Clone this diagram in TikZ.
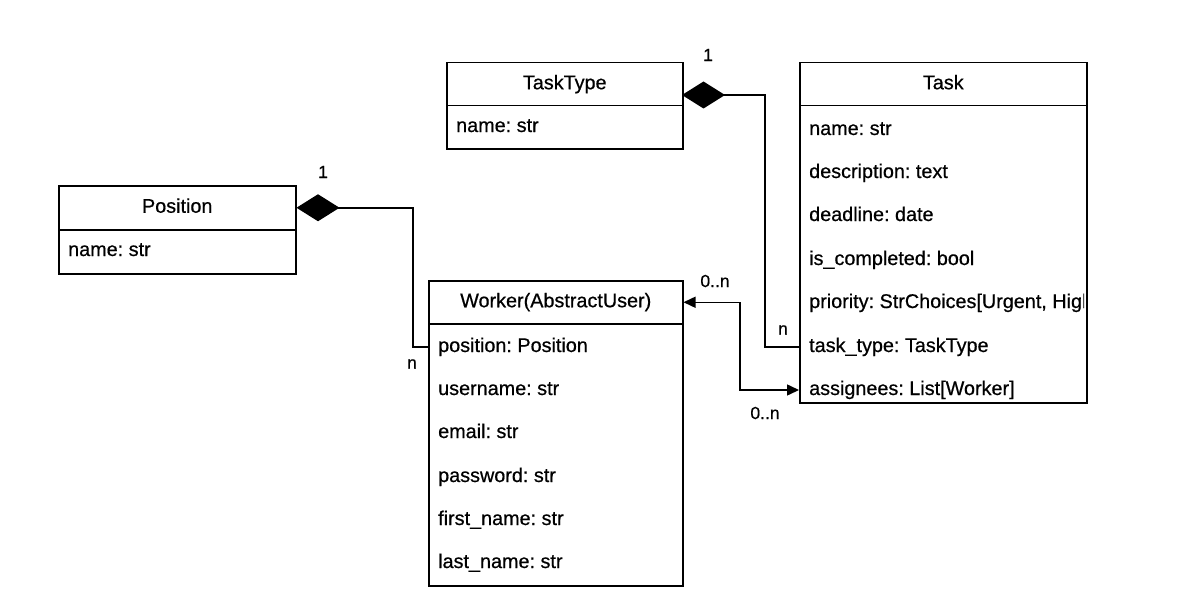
\documentclass[tikz,border=0pt]{standalone}
\usepackage{fontspec}
\setmainfont{Liberation Sans}[BoldFont=Liberation Sans, BoldFeatures={FakeBold=0.6}]
\usetikzlibrary{arrows.meta}
\frenchspacing
\begin{document}
\begin{tikzpicture}[x=1pt,y=-1pt,
  txt/.style={font=\fontsize{19.8}{23}\selectfont\bfseries\frenchspacing, text=black, text height=14pt, text depth=4pt},
  hdr/.style={txt, draw=black, line width=1.5pt, inner sep=0pt, anchor=north west, minimum height=43pt},
  bodybox/.style={draw=black, line width=1.5pt, inner sep=0pt, anchor=north west},
  field/.style={txt, anchor=west, inner xsep=10pt, inner ysep=0pt},
  mult/.style={font=\fontsize{17.5}{20}\selectfont\bfseries, text=black, inner sep=0pt},
  conn/.style={draw=black, line width=1.5pt},
  comp/.style={conn, {Diamond[length=43pt,width=27pt]}-},
  assoc/.style={conn, {Triangle[length=12pt,width=11pt]}-{Triangle[length=12pt,width=11pt]}}]
\useasboundingbox (0,0) rectangle (1193,615);

% Position
\node[hdr, minimum width=237pt, minimum height=44pt] (posh) at (58,185) {Position};
\node[bodybox, minimum width=237pt, minimum height=44pt] (posb) at (58,229) {};
\node[field] (p1) at (58,251) {name: str};

% TaskType
\node[hdr, minimum width=236pt] (tth) at (446,62) {TaskType};
\node[bodybox, minimum width=236pt, minimum height=43pt] (ttb) at (446,105) {};
\node[field] (tt1) at (446,127) {name: str};

% Task
\node[hdr, minimum width=287pt] (th) at (799,62) {Task};
\node[bodybox, minimum width=287pt, minimum height=297pt] (tb) at (799,105) {};
\node[field] (t1) at (799,130) {name: str};
\node[field] (t2) at (799,173) {description: text};
\node[field] (t3) at (799,216) {deadline: date};
\node[field] (t4) at (799,260) {is\_completed: bool};
\begin{scope}
\clip (799,280) rectangle (1084,325);
\node[field] (t5) at (799,303) {priority: StrChoices[Urgent, High, Medium, Low]};
\end{scope}
\node[field] (t6) at (799,347) {task\_type: TaskType};
\node[field] (t7) at (799,390) {assignees: List[Worker]};

% Worker
\node[hdr, minimum width=254pt] (wh) at (428,280) {Worker(AbstractUser)};
\node[bodybox, minimum width=254pt, minimum height=262pt] (wb) at (428,323) {};
\node[field] (w1) at (428,347) {position: Position};
\node[field] (w2) at (428,390) {username: str};
\node[field] (w3) at (428,433) {email: str};
\node[field] (w4) at (428,477) {password: str};
\node[field] (w5) at (428,520) {first\_name: str};
\node[field] (w6) at (428,563) {last\_name: str};

% connectors
\coordinate (k1) at (413,347);
\coordinate (ttd) at (682,95);
\coordinate (k2) at (765,347);
\coordinate (k3) at (740,390);
\draw[comp] (posh.east) -| (k1) -- (w1.west);
\draw[comp] (ttd) -| (k2) -- (t6.west);
\draw[assoc] (wh.east) -| (k3) -- (t7.west);

% multiplicities
\node[mult] (m1) at (323,172) {1};
\node[mult] (m2) at (412,364) {n};
\node[mult] (m3) at (708,55) {1};
\node[mult] (m4) at (783,330) {n};
\node[mult] (m5) at (715,281) {0..n};
\node[mult] (m6) at (765,413) {0..n};
\end{tikzpicture}
\end{document}
